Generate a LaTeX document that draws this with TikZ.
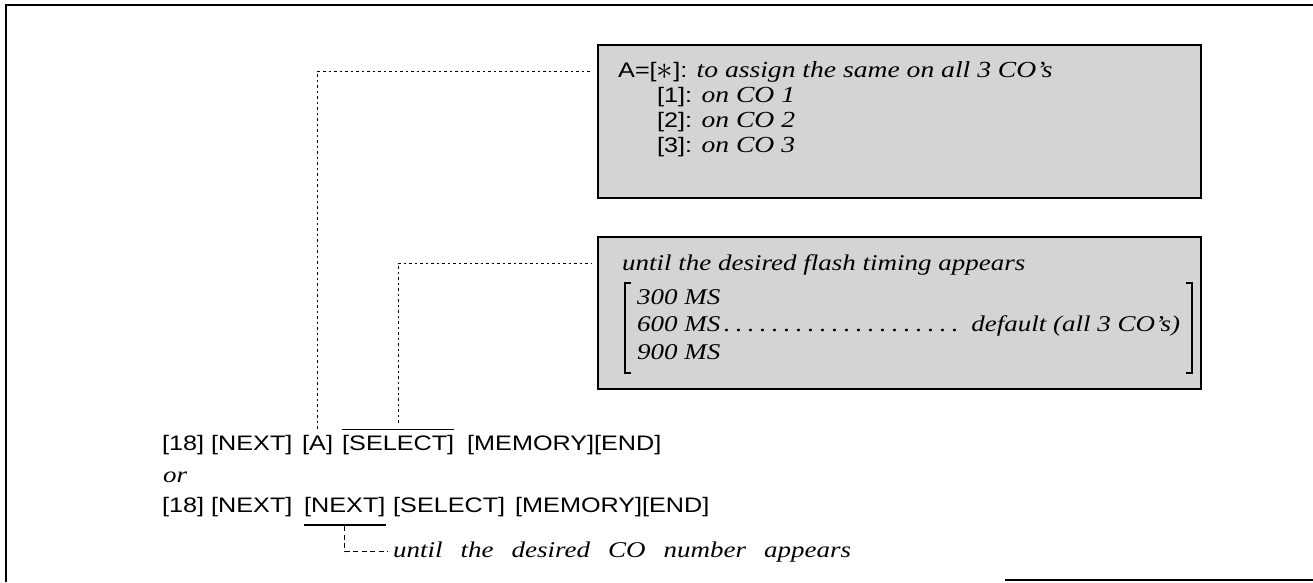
\documentclass[tikz,border=0pt]{standalone}
\usepackage{graphicx}
\usepackage{fontspec}
\setmainfont{Liberation Serif}[FakeStretch=1.2]
\setsansfont{Liberation Sans}[FakeStretch=1.2]
\newcommand\dsc[1]{{\rmfamily\itshape\fontsize{23}{27}\selectfont #1}}
\newcommand\bigast{\raisebox{-0.12em}{\scalebox{1.6}{$\ast$}}}
\tikzset{
  key/.style={inner sep=0pt, anchor=base west, font=\sffamily\fontsize{21}{25}\selectfont},
  desc/.style={inner sep=0pt, anchor=base west, font=\rmfamily\itshape\fontsize{22.5}{27}\selectfont},
  graybox/.style={draw, line width=1.6pt, fill=black!17, anchor=north west, inner sep=0pt},
  dotline/.style={line width=1pt, dash pattern=on 2.5pt off 3pt},
  dashline/.style={line width=1pt, dash pattern=on 5pt off 3.5pt},
  frameline/.style={line width=1.8pt},
  brk/.style={line width=1.6pt},
  rule/.style={line width=1.2pt}
}
\begin{document}
\begin{tikzpicture}[x=1pt,y=-1pt]
\useasboundingbox (0,0) rectangle (1313,582);
% outer frame
\draw[frameline] (1313,5) -- (6,5) -- (6,582);
\draw[frameline] (1005,580) -- (1313,580);

% gray boxes
\node[graybox, minimum width=603pt, minimum height=153pt] (box1) at (597,44) {};
\node[graybox, minimum width=603pt, minimum height=152pt] (box2) at (597,236) {};

% box 1 text
\node[key] (l1) at (618,77) {A=[\bigast]: \dsc{to assign the same on all 3 CO’s}};
\node[key] (l2) at (657,102) {[1]: \dsc{on CO 1}};
\node[key] (l3) at (657,127) {[2]: \dsc{on CO 2}};
\node[key] (l4) at (657,152) {[3]: \dsc{on CO 3}};

% box 2 text
\node[desc] (t1) at (622,270) {until the desired flash timing appears};
\node[desc] (t2) at (637,304) {300 MS};
\node[desc] (t3) at (637,331) {\hbox to 543pt{600 MS\leaders\hbox to 12pt{\hss.\hss}\hfill\ default (all 3 CO’s)}};
\node[desc] (t4) at (637,359) {900 MS};
\draw[brk] (631,283) -- (625,283) -- (625,373) -- (631,373);
\draw[brk] (1186,283) -- (1192,283) -- (1192,373) -- (1186,373);

% key sequences
\node[key] (r1a) at (162,450) {[18] [NEXT]};
\node[key] (keyA) at (302,450) {[A]};
\node[key] (sel1) at (342,450) {[SELECT]};
\node[key] (mem1) at (467,450) {[MEMORY][END]};
\node[desc] (orw) at (163,482) {or};
\node[key] (r3a) at (162,512) {[18] [NEXT]};
\node[key] (next2) at (304,512) {[NEXT]};
\node[key] (sel3) at (393,512) {[SELECT]};
\node[key] (mem3) at (515,512) {[MEMORY][END]};
\node[desc] (until) at (393,557) {\spaceskip=18pt until the desired CO number appears};

\draw[rule] ([yshift=5pt]sel1.north west) -- ([yshift=5pt]sel1.north east);
\draw[rule] ([yshift=-8.5pt]next2.south west) -- ([yshift=-8.5pt]next2.south east);

% connectors
\coordinate (c1) at (591,71);
\coordinate (c2) at (591,263);
\draw[dotline] ([yshift=6pt]keyA.north) |- (c1);
\draw[dotline] ([yshift=12pt]sel1.north) |- (c2);
\draw[dashline] ([yshift=-9.5pt]next2.south) |- ([xshift=-5pt]until.west);
\end{tikzpicture}
\end{document}
